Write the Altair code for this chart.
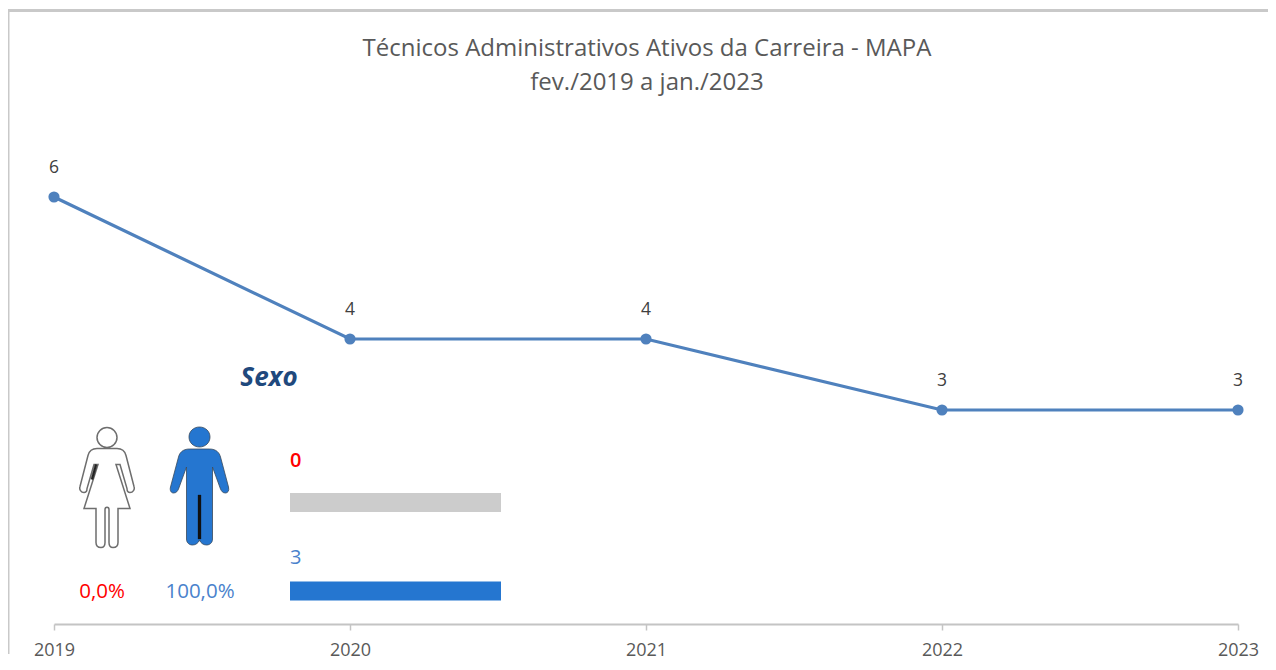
import altair as alt
import pandas as pd

title_lines = ["Técnicos Administrativos Ativos da Carreira - MAPA", "fev./2019 a jan./2023"]
years = [2019, 2020, 2021, 2022, 2023]
ativos = [6, 4, 4, 3, 3]
sexo = ["Feminino", "Masculino"]
sexo_n = [0, 3]
sexo_pct = ["0,0%", "100,0%"]
sexo_total = 3

FONT = "Open Sans"
LINE = "#4f81bd"
BLUE = "#2576d0"
RED = "#ff0000"
TXT_BLUE = "#4a82cc"
FRAME = "#c9c9c9"

WOMAN = ("M0,-60 C5.5,-60 10,-55.5 10,-50 C10,-44.5 5.5,-40 0,-40 C-5.5,-40 -10,-44.5 -10,-50 C-10,-55.5 -5.5,-60 0,-60 Z "
         "M-10,-39 L10,-39 C15,-39 18,-36 19,-32 L27,-1 C28,2 26,5 23,5 C21,5 20,3 20,1 L13,-23 L9,-23 L23,21 L11,21 L11,55 "
         "C11,58 9,60 6,60 C3,60 2,58 2,55 L2,22 C2,19 -2,19 -2,22 L-2,55 C-2,58 -3,60 -6,60 C-9,60 -11,58 -11,55 L-11,21 "
         "L-23,21 L-9,-23 L-13,-23 L-20,1 C-20,3 -21,5 -23,5 C-26,5 -28,2 -27,-1 L-19,-32 C-18,-36 -15,-39 -10,-39 Z")
WOMAN_DARK = "M-12,-23 L-10,-22.5 L-14,-8 L-16,-8.5 Z"
MAN = ("M0,-60 C5.8,-60 10.5,-55.8 10.5,-50 C10.5,-44.2 5.8,-40 0,-40 C-5.8,-40 -10.5,-44.2 -10.5,-50 C-10.5,-55.8 -5.8,-60 0,-60 Z "
       "M-10,-38 L10,-38 C17,-38 20,-34 21,-30 L29,0 C30,4 28,6 26,6 C23,6 22,4 21,2 L13,-20 L13,52 C13,56 10,58 7,58 "
       "C4,58 1,56 0,53 C-1,56 -4,58 -7,58 C-10,58 -13,56 -13,52 L-13,-20 L-21,2 C-22,4 -23,6 -26,6 C-28,6 -30,4 -29,0 "
       "L-21,-30 C-20,-34 -17,-38 -10,-38 Z")
MAN_DARK = "M-1.5,8 L1.5,8 L1.5,52 L-1.5,52 Z"

serie = pd.DataFrame({"ano": years, "ativos": ativos})
painel = pd.DataFrame({"sexo": sexo, "n": sexo_n, "pct": sexo_pct, "total": [sexo_total] * len(sexo)})
one = pd.DataFrame({"k": [0]})

x_year = alt.Scale(domain=[2019, 2023], nice=False, zero=False)
y_val = alt.Scale(domain=[-0.014, 8.662], nice=False, zero=False)
x_bar = alt.Scale(domain=[0, sexo_total], range=[236, 447], nice=False)
y_bar = alt.Scale(type="band", domain=sexo, range=[450.25, 627.25], paddingInner=0, paddingOuter=0)
y_num = alt.Scale(type="band", domain=sexo, range=[404, 598], paddingInner=0, paddingOuter=0)
x_pct = alt.Scale(type="point", domain=sexo, range=[48, 146], padding=0)
c_sexo = alt.Scale(domain=sexo, range=[RED, TXT_BLUE])

line = alt.Chart(serie).mark_line(color=LINE, strokeWidth=3.2).encode(
    x=alt.X("ano:Q", scale=x_year, axis=alt.Axis(
        values=years, format="d", title=None, grid=False, domainColor="#c4c4c4", domainWidth=2,
        tickColor="#c4c4c4", tickWidth=1.5, tickSize=6, labelColor="#595959", labelFont=FONT,
        labelFontSize=18, labelPadding=11, labelFlush=False, labelOverlap=False)),
    y=alt.Y("ativos:Q", scale=y_val, axis=None),
)
pts = alt.Chart(serie).mark_point(color=LINE, filled=True, opacity=1, size=125).encode(
    x=alt.X("ano:Q", scale=x_year, axis=None), y=alt.Y("ativos:Q", scale=y_val, axis=None))
lbl = alt.Chart(serie).mark_text(dy=-29, font=FONT, fontSize=17.5, color="#404040").encode(
    x=alt.X("ano:Q", scale=x_year, axis=None), y=alt.Y("ativos:Q", scale=y_val, axis=None), text="ativos:Q")

track = alt.Chart(painel.iloc[[0]]).mark_bar(color="#cccccc", size=19).encode(
    x=alt.X("total:Q", scale=x_bar, axis=None),
    y=alt.Y("sexo:N", scale=y_bar, axis=None))
bars = alt.Chart(painel).mark_bar(color=BLUE, size=19).encode(
    x=alt.X("n:Q", scale=x_bar, axis=None),
    y=alt.Y("sexo:N", scale=y_bar, axis=None))

def num_label(rows, weight):
    return alt.Chart(rows).mark_text(align="left", font=FONT, fontSize=20, fontWeight=weight).encode(
        x=alt.value(236),
        y=alt.Y("sexo:N", scale=y_num, axis=None),
        text="n:Q",
        color=alt.Color("sexo:N", scale=c_sexo, legend=None))

num_f = num_label(painel.iloc[[0]], 600)
num_m = num_label(painel.iloc[[1]], 400)
pct = alt.Chart(painel).mark_text(font=FONT, fontSize=20.5).encode(
    x=alt.X("sexo:N", scale=x_pct, axis=None),
    y=alt.value(584),
    text="pct:N",
    color=alt.Color("sexo:N", scale=c_sexo, legend=None))

def txt(s, x, y, **kw):
    return alt.Chart(pd.DataFrame({"t": [s]})).mark_text(x=x, y=y, **kw).encode(text="t:N")

t1 = txt(title_lines[0], 593, 41, font=FONT, fontSize=24, color="#595959")
t2 = txt(title_lines[1], 593, 75, font=FONT, fontSize=24, color="#595959")
sexo_t = txt("Sexo", 215, 370, font=FONT, fontSize=26, fontWeight="bold", fontStyle="italic", color="#1f497d")

def icon(path, x, y, fill, stroke, sw):
    return alt.Chart(one).mark_point(shape=path, filled=True, fill=fill, stroke=stroke, strokeWidth=sw,
                                     opacity=1, size=4).encode(x=alt.value(x), y=alt.value(y))

woman = icon(WOMAN, 53, 479.5, "#ffffff", "#6e6e6e", 1.5)
woman_d = icon(WOMAN_DARK, 53, 479.5, "#222222", "#222222", 0.5)
man = icon(MAN, 145.5, 479, BLUE, "#3a4a5c", 0.8)
man_d = icon(MAN_DARK, 145.5, 479, "#111111", "#111111", 0.3)

frame_top = alt.Chart(one).mark_rule(color=FRAME, strokeWidth=3).encode(
    x=alt.value(-46), x2=alt.value(1214), y=alt.value(2.5))
frame_left = alt.Chart(one).mark_rule(color=FRAME, strokeWidth=3).encode(
    x=alt.value(-46), y=alt.value(1), y2=alt.value(646))

chart = alt.layer(
    frame_top, frame_left, line, pts, lbl, track, bars, num_f, num_m, pct,
    t1, t2, sexo_t, woman, woman_d, man, man_d,
).resolve_scale(x="independent", y="independent", color="independent").properties(
    width=1184, height=616,
    padding={"left": 46, "top": 0, "right": 30, "bottom": 38},
    autosize=alt.AutoSizeParams(type="none"),
    background="#ffffff",
).configure_view(stroke=None)

chart.save("out.html", embed_options={"renderer": "svg", "actions": False})
